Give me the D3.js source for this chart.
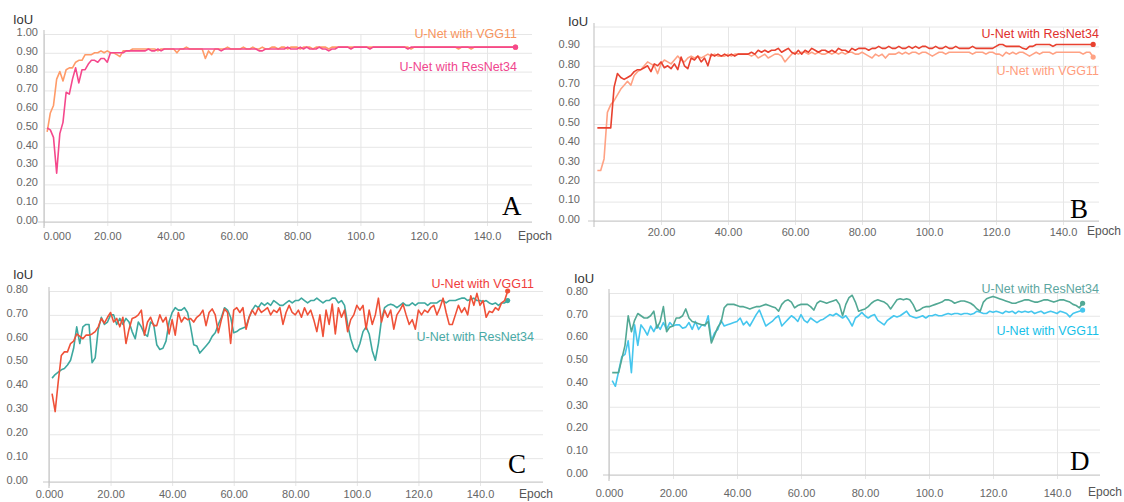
<!DOCTYPE html>
<html>
<head>
<meta charset="utf-8">
<script src="https://cdn.jsdelivr.net/npm/d3@7"></script>
<style>
  body { margin: 0; background: #fff; }
  svg { display: block; font-family: "Liberation Sans", Arial, sans-serif; }
  .grid line { stroke: #e6e6e6; stroke-width: 1; }
  .grid text { fill: #666; font-size: 11px; }
</style>
</head>
<body>
<svg id="chart" width="1124" height="502"></svg>
<script>
// IoU per epoch (epoch = index + 1)
var aVgg = [0.48,0.58,0.62,0.76,0.80,0.75,0.81,0.82,0.82,0.85,
  0.86,0.86,0.89,0.89,0.89,0.90,0.90,0.91,0.90,0.91,
  0.90,0.90,0.89,0.88,0.91,0.91,0.91,0.92,0.92,0.92,
  0.92,0.92,0.92,0.92,0.92,0.91,0.92,0.92,0.92,0.92,
  0.92,0.90,0.92,0.92,0.93,0.92,0.92,0.92,0.92,0.92,
  0.87,0.91,0.89,0.92,0.92,0.92,0.92,0.93,0.92,0.92,
  0.92,0.92,0.93,0.92,0.92,0.93,0.92,0.92,0.93,0.92,
  0.92,0.93,0.93,0.92,0.93,0.93,0.92,0.93,0.93,0.93,
  0.92,0.93,0.93,0.93,0.92,0.93,0.93,0.93,0.93,0.92,
  0.93,0.93,0.93,0.93,0.93,0.93,0.93,0.93,0.93,0.93,
  0.93,0.93,0.93,0.93,0.93,0.93,0.93,0.93,0.93,0.93,
  0.93,0.93,0.93,0.93,0.93,0.92,0.93,0.93,0.93,0.93,
  0.93,0.93,0.93,0.93,0.93,0.93,0.93,0.93,0.93,0.93,
  0.92,0.93,0.93,0.93,0.92,0.93,0.93,0.93,0.93,0.93,
  0.93,0.93,0.93,0.93,0.93,0.93,0.93,0.93,0.93];
var aRes = [0.50,0.49,0.45,0.26,0.47,0.53,0.69,0.68,0.76,0.82,
  0.74,0.81,0.81,0.84,0.86,0.86,0.85,0.87,0.87,0.85,
  0.90,0.90,0.90,0.90,0.90,0.91,0.91,0.91,0.91,0.91,
  0.91,0.91,0.92,0.91,0.91,0.92,0.91,0.92,0.92,0.92,
  0.92,0.92,0.92,0.92,0.92,0.92,0.92,0.92,0.92,0.92,
  0.92,0.92,0.92,0.92,0.92,0.91,0.92,0.92,0.92,0.92,
  0.92,0.92,0.92,0.92,0.92,0.92,0.92,0.91,0.91,0.92,
  0.92,0.92,0.92,0.92,0.92,0.92,0.93,0.92,0.92,0.92,
  0.93,0.92,0.93,0.92,0.92,0.92,0.93,0.92,0.92,0.91,
  0.92,0.92,0.93,0.93,0.93,0.93,0.92,0.93,0.93,0.93,
  0.93,0.93,0.92,0.93,0.93,0.93,0.93,0.93,0.93,0.93,
  0.93,0.93,0.93,0.93,0.92,0.93,0.93,0.93,0.93,0.93,
  0.93,0.93,0.93,0.93,0.93,0.93,0.93,0.93,0.93,0.93,
  0.93,0.93,0.93,0.93,0.93,0.93,0.93,0.93,0.93,0.93,
  0.93,0.93,0.93,0.93,0.93,0.93,0.93,0.93,0.93];

var bRes = [0.48,0.48,0.48,0.48,0.48,0.69,0.76,0.74,0.73,0.74,
  0.75,0.77,0.78,0.78,0.79,0.80,0.77,0.81,0.80,0.82,
  0.79,0.80,0.785,0.81,0.78,0.845,0.80,0.785,0.84,0.83,
  0.85,0.82,0.84,0.80,0.86,0.85,0.86,0.85,0.86,0.85,
  0.86,0.85,0.86,0.86,0.86,0.86,0.87,0.86,0.88,0.87,
  0.88,0.87,0.88,0.88,0.89,0.87,0.88,0.89,0.87,0.86,
  0.88,0.86,0.88,0.87,0.89,0.88,0.87,0.88,0.88,0.87,
  0.88,0.87,0.89,0.88,0.88,0.87,0.89,0.88,0.89,0.89,
  0.89,0.88,0.89,0.89,0.90,0.89,0.89,0.90,0.89,0.89,
  0.90,0.89,0.89,0.90,0.89,0.90,0.89,0.90,0.90,0.89,
  0.89,0.90,0.89,0.89,0.90,0.89,0.89,0.90,0.89,0.89,
  0.89,0.89,0.90,0.89,0.89,0.89,0.89,0.89,0.89,0.90,
  0.91,0.91,0.90,0.90,0.90,0.90,0.90,0.89,0.885,0.90,
  0.90,0.91,0.91,0.91,0.91,0.91,0.90,0.91,0.91,0.91,
  0.91,0.91,0.91,0.91,0.91,0.91,0.91,0.91,0.91];
var bVgg = [0.26,0.26,0.32,0.56,0.60,0.62,0.65,0.68,0.70,0.72,
  0.70,0.75,0.77,0.78,0.80,0.82,0.81,0.80,0.76,0.81,
  0.83,0.82,0.81,0.83,0.85,0.83,0.82,0.84,0.85,0.84,
  0.85,0.84,0.85,0.86,0.85,0.86,0.85,0.85,0.85,0.86,
  0.85,0.86,0.86,0.86,0.86,0.86,0.85,0.86,0.84,0.85,
  0.86,0.84,0.85,0.86,0.86,0.85,0.82,0.84,0.86,0.87,
  0.86,0.87,0.87,0.86,0.87,0.86,0.87,0.86,0.86,0.87,
  0.86,0.87,0.86,0.87,0.86,0.87,0.87,0.86,0.86,0.87,
  0.86,0.85,0.84,0.86,0.85,0.86,0.84,0.86,0.86,0.86,
  0.87,0.86,0.87,0.86,0.87,0.87,0.86,0.87,0.87,0.86,
  0.85,0.86,0.87,0.87,0.86,0.87,0.87,0.87,0.87,0.87,
  0.87,0.87,0.86,0.87,0.87,0.87,0.86,0.87,0.87,0.86,
  0.86,0.85,0.87,0.86,0.87,0.86,0.87,0.87,0.86,0.85,
  0.86,0.87,0.86,0.87,0.87,0.87,0.86,0.87,0.87,0.87,
  0.87,0.87,0.87,0.87,0.87,0.86,0.87,0.87,0.845];

var cVgg = [0.37,0.295,0.42,0.53,0.545,0.545,0.58,0.59,0.62,0.61,
  0.60,0.615,0.615,0.62,0.63,0.65,0.685,0.665,0.69,0.71,
  0.67,0.685,0.65,0.69,0.58,0.64,0.685,0.69,0.70,0.72,
  0.615,0.67,0.69,0.655,0.655,0.70,0.67,0.69,0.62,0.68,
  0.615,0.71,0.67,0.69,0.68,0.685,0.67,0.69,0.70,0.72,
  0.655,0.71,0.725,0.70,0.625,0.68,0.725,0.71,0.58,0.72,
  0.73,0.71,0.73,0.64,0.69,0.72,0.70,0.73,0.71,0.72,
  0.73,0.70,0.72,0.71,0.73,0.66,0.71,0.74,0.71,0.70,
  0.72,0.69,0.73,0.70,0.72,0.68,0.63,0.70,0.61,0.72,
  0.66,0.745,0.62,0.73,0.69,0.72,0.63,0.68,0.70,0.74,
  0.72,0.74,0.64,0.72,0.66,0.70,0.77,0.67,0.72,0.69,
  0.72,0.64,0.70,0.72,0.745,0.70,0.66,0.68,0.64,0.72,
  0.70,0.72,0.71,0.73,0.74,0.70,0.73,0.77,0.71,0.66,
  0.66,0.70,0.74,0.71,0.73,0.70,0.78,0.74,0.79,0.74,
  0.76,0.69,0.715,0.71,0.73,0.72,0.75,0.76,0.80];
var cRes = [0.435,0.45,0.46,0.47,0.475,0.49,0.51,0.56,0.65,0.58,
  0.65,0.66,0.66,0.50,0.52,0.64,0.69,0.66,0.67,0.70,
  0.70,0.66,0.685,0.66,0.685,0.67,0.63,0.60,0.67,0.65,
  0.62,0.61,0.67,0.66,0.575,0.555,0.56,0.59,0.67,0.71,
  0.73,0.72,0.72,0.73,0.71,0.65,0.575,0.57,0.54,0.555,
  0.57,0.585,0.61,0.625,0.66,0.69,0.73,0.72,0.69,0.625,
  0.63,0.64,0.645,0.65,0.69,0.72,0.74,0.73,0.75,0.74,
  0.75,0.74,0.76,0.75,0.74,0.74,0.75,0.76,0.75,0.76,
  0.76,0.77,0.76,0.75,0.76,0.76,0.77,0.76,0.75,0.76,
  0.76,0.77,0.77,0.75,0.76,0.74,0.66,0.60,0.56,0.545,
  0.58,0.63,0.65,0.62,0.55,0.51,0.58,0.68,0.73,0.74,
  0.745,0.74,0.73,0.74,0.75,0.74,0.74,0.75,0.74,0.75,
  0.75,0.75,0.74,0.75,0.75,0.75,0.76,0.76,0.75,0.76,
  0.76,0.76,0.765,0.77,0.77,0.76,0.765,0.77,0.76,0.76,
  0.755,0.76,0.75,0.745,0.75,0.74,0.75,0.75,0.76];

var dRes = [0.45,0.45,0.45,0.51,0.57,0.70,0.63,0.68,0.71,0.70,
  0.69,0.69,0.70,0.72,0.645,0.675,0.74,0.63,0.65,0.655,
  0.69,0.69,0.70,0.73,0.69,0.675,0.67,0.665,0.66,0.66,
  0.675,0.58,0.615,0.65,0.67,0.735,0.75,0.75,0.75,0.745,
  0.74,0.74,0.735,0.73,0.735,0.74,0.74,0.745,0.75,0.745,
  0.74,0.735,0.72,0.75,0.765,0.77,0.76,0.735,0.745,0.75,
  0.75,0.75,0.74,0.725,0.755,0.765,0.76,0.755,0.76,0.765,
  0.77,0.75,0.70,0.75,0.78,0.79,0.76,0.72,0.725,0.73,
  0.74,0.755,0.765,0.77,0.765,0.76,0.75,0.73,0.75,0.77,
  0.775,0.77,0.775,0.77,0.75,0.72,0.725,0.735,0.74,0.74,
  0.745,0.75,0.755,0.76,0.77,0.77,0.765,0.755,0.76,0.765,
  0.765,0.76,0.755,0.745,0.73,0.72,0.76,0.775,0.78,0.785,
  0.78,0.775,0.77,0.765,0.76,0.755,0.755,0.76,0.765,0.77,
  0.77,0.765,0.76,0.76,0.765,0.77,0.77,0.765,0.76,0.765,
  0.77,0.77,0.765,0.76,0.75,0.745,0.735,0.755];
var dVgg = [0.415,0.39,0.455,0.52,0.53,0.59,0.45,0.66,0.57,0.66,
  0.64,0.615,0.655,0.63,0.66,0.64,0.67,0.64,0.67,0.655,
  0.66,0.66,0.645,0.65,0.67,0.64,0.675,0.64,0.66,0.655,
  0.70,0.59,0.625,0.64,0.68,0.655,0.66,0.665,0.67,0.675,
  0.69,0.66,0.675,0.655,0.68,0.705,0.725,0.69,0.655,0.665,
  0.675,0.69,0.70,0.655,0.67,0.685,0.70,0.69,0.675,0.705,
  0.68,0.67,0.69,0.68,0.67,0.68,0.685,0.695,0.705,0.70,
  0.71,0.70,0.69,0.70,0.68,0.655,0.69,0.70,0.715,0.70,
  0.69,0.70,0.705,0.68,0.67,0.66,0.68,0.69,0.70,0.695,
  0.70,0.71,0.72,0.70,0.695,0.69,0.695,0.70,0.69,0.70,
  0.70,0.705,0.70,0.70,0.705,0.71,0.705,0.71,0.71,0.705,
  0.71,0.71,0.705,0.71,0.72,0.715,0.71,0.71,0.72,0.715,
  0.72,0.715,0.71,0.72,0.715,0.72,0.71,0.72,0.715,0.72,
  0.715,0.72,0.71,0.715,0.72,0.71,0.715,0.72,0.715,0.71,
  0.72,0.715,0.71,0.695,0.71,0.715,0.72,0.725];

var yTicksFull = [0, 0.1, 0.2, 0.3, 0.4, 0.5, 0.6, 0.7, 0.8, 0.9, 1.0];
var yTicksNoTop = [0, 0.1, 0.2, 0.3, 0.4, 0.5, 0.6, 0.7, 0.8, 0.9];
var yTicksLow = [0, 0.1, 0.2, 0.3, 0.4, 0.5, 0.6, 0.7, 0.8];
var xTicks = [0, 20, 40, 60, 80, 100, 120, 140];
var xTicksNoZero = [20, 40, 60, 80, 100, 120, 140];
var nameVgg = "U-Net with VGG11", nameRes = "U-Net with ResNet34";

var svg = d3.select("#chart");
var fmtX = d3.format(".4r"), fmtY = d3.format(".2f");

var panels = [
  {left: 44, x140: 487, right: 532, top: 34, bottom: 222, yMax: 1.0, yTicks: yTicksFull, xTicks: xTicks,
   yPad: 6, xPad: 10, firstStart: true, iou: [13, 24], epoch: [518, 240], letter: ["A", 502, 215],
   legendX: 517, series: [
     {name: nameVgg, values: aVgg, color: "#ff9b68", text: "#f7955f", ly: 38},
     {name: nameRes, values: aRes, color: "#f5488c", text: "#f0468e", ly: 71}]},
  {left: 594, x140: 1063, right: 1099, top: 27, bottom: 221, yMax: 1.0, yTicks: yTicksNoTop, xTicks: xTicksNoZero,
   yPad: 14, xPad: 7, iou: [568, 26], epoch: [1087, 235], letter: ["B", 1070, 218], topLine: true,
   legendX: 1099, series: [
     {name: nameVgg, values: bVgg, color: "#ffa284", text: "#ff9d7d", ly: 75},
     {name: nameRes, values: bRes, color: "#e8412f", text: "#e0302c", ly: 38}]},
  {left: 49, x140: 480, right: 543, top: 291, bottom: 482, yMax: 0.8, yTicks: yTicksLow, xTicks: xTicks,
   yPad: 21, xPad: 8, iou: [13, 279], epoch: [519, 498], letter: ["C", 508, 473],
   legendX: 534, series: [
     {name: nameRes, values: cRes, color: "#3ea89f", text: "#4aaaa6", ly: 341},
     {name: nameVgg, values: cVgg, color: "#ef5138", text: "#f03c3c", ly: 288}]},
  {left: 609, x140: 1057, right: 1100, top: 293, bottom: 475, yMax: 0.8, yTicks: yTicksLow, xTicks: xTicks,
   yPad: 21, xPad: 14, iou: [574, 283], epoch: [1088, 496], letter: ["D", 1070, 470],
   legendX: 1099, series: [
     {name: nameVgg, values: dVgg, color: "#45c6ee", text: "#16bfe8", ly: 335},
     {name: nameRes, values: dRes, color: "#52a894", text: "#5ca6a0", ly: 293}]}
];

function drawPanel(p) {
  var g = svg.append("g");
  var x = d3.scaleLinear().domain([0, 140]).range([p.left, p.x140]);
  var y = d3.scaleLinear().domain([0, p.yMax]).range([p.bottom, p.top]);

  // horizontal grid + y labels
  var ya = g.append("g").attr("class", "grid")
    .attr("transform", "translate(" + p.left + ",0)")
    .call(d3.axisLeft(y).tickValues(p.yTicks).tickFormat(fmtY)
      .tickSizeInner(-(p.right - p.left)).tickSizeOuter(0).tickPadding(p.yPad));
  ya.select(".domain").remove();
  ya.selectAll("text").attr("dy", "0.12em");
  if (p.topLine) {
    g.append("line").attr("x1", p.left).attr("x2", p.right)
      .attr("y1", p.top).attr("y2", p.top).attr("stroke", "#e6e6e6");
  }

  // vertical grid + x labels
  var xa = g.append("g").attr("class", "grid")
    .attr("transform", "translate(0," + (p.bottom + 4) + ")")
    .call(d3.axisBottom(x).tickValues(p.xTicks).tickFormat(fmtX)
      .tickSizeInner(-(p.bottom + 4 - p.top)).tickSizeOuter(0).tickPadding(p.xPad - 4));
  xa.select(".domain").remove();
  if (p.firstStart) {
    xa.selectAll("text").filter(function (d) { return d === 0; })
      .attr("text-anchor", "start").attr("dx", "-1");
  }

  // axis lines
  g.append("line").attr("x1", p.left - 6).attr("x2", p.right)
    .attr("y1", p.bottom).attr("y2", p.bottom).attr("stroke", "#c8c8c8");
  g.append("line").attr("x1", p.left).attr("x2", p.left)
    .attr("y1", p.top - 4).attr("y2", p.bottom + 6).attr("stroke", "#bdbdbd");

  var line = d3.line()
    .x(function (d, i) { return x(i + 1); })
    .y(function (d) { return y(d); });

  p.series.forEach(function (s) {
    g.append("path").datum(s.values)
      .attr("d", line)
      .attr("fill", "none")
      .attr("stroke", s.color)
      .attr("stroke-width", 1.6)
      .attr("stroke-linejoin", "round");
    var n = s.values.length;
    g.append("circle")
      .attr("cx", x(n)).attr("cy", y(s.values[n - 1]))
      .attr("r", 2.6).attr("fill", s.color);
    g.append("text")
      .attr("x", p.legendX).attr("y", s.ly)
      .attr("text-anchor", "end")
      .attr("font-size", "12.5px")
      .attr("fill", s.text)
      .text(s.name);
  });

  g.append("text").attr("x", p.iou[0]).attr("y", p.iou[1])
    .attr("font-size", "13px").attr("fill", "#333").text("IoU");
  g.append("text").attr("x", p.epoch[0]).attr("y", p.epoch[1])
    .attr("font-size", "12px").attr("fill", "#555").text("Epoch");
  g.append("text").attr("x", p.letter[1]).attr("y", p.letter[2])
    .attr("font-family", "'Liberation Serif', 'Times New Roman', serif")
    .attr("font-size", "27px").attr("fill", "#000").text(p.letter[0]);
}

panels.forEach(drawPanel);
</script>
</body>
</html>
